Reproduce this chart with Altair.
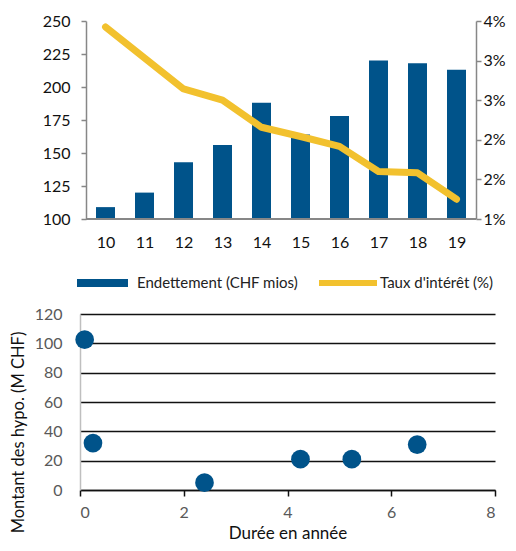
import altair as alt
import pandas as pd

# ---- top chart data ----
years = [10, 11, 12, 13, 14, 15, 16, 17, 18, 19]
debt = [109, 120, 143, 156, 188, 164, 178, 220, 218, 213]
rate = [3.91, 3.44, 2.97, 2.80, 2.39, 2.25, 2.10, 1.72, 1.70, 1.30]
debt_label = "Endettement (CHF mios)"
rate_label = "Taux d'intérêt (%)"
left_ticks = [100, 125, 150, 175, 200, 225, 250]
right_ticks = [1.0, 1.6, 2.2, 2.8, 3.4, 4.0]

# ---- bottom chart data ----
duration = [0.09, 0.25, 2.4, 4.25, 5.24, 6.5]
amount = [102.5, 32, 5, 21, 21, 31]
x_ticks = [0, 2, 4, 6, 8]
y_ticks = [0, 20, 40, 60, 80, 100, 120]

BLUE = "#00538A"
YELLOW = "#F2C12E"
GREY = "#878787"

top_df = pd.DataFrame({"year": years, "debt": debt, "rate": rate,
                       "s1": debt_label, "s2": rate_label})
base_df = pd.DataFrame({"year": [9.5], "year_end": [19.5], "debt": [100]})

xenc = alt.X("year:Q",
             scale=alt.Scale(domain=[9.346, 19.5], nice=False, zero=False, padding=0),
             axis=alt.Axis(values=years, format="d", title=None, ticks=False, tickSize=0,
                           domain=False, grid=False, labelFontSize=16, labelPadding=15,
                           labelColor="#111"))
yenc = alt.Y("debt:Q", scale=alt.Scale(domain=[100, 250], nice=False, zero=False),
             axis=alt.Axis(orient="left", values=left_ticks, title=None, offset=-6,
                           domainColor=GREY, domainWidth=1.5, tickColor=GREY, tickSize=5,
                           tickWidth=1.5, labelPadding=11, grid=False, labelFontSize=16,
                           labelColor="#111"))

bars = alt.Chart(top_df).mark_bar(size=19).encode(
    x=xenc,
    y=yenc,
    y2=alt.datum(100),
    fill=alt.Fill("s1:N", scale=alt.Scale(domain=[debt_label], range=[BLUE]),
                  legend=alt.Legend(title=None, orient="none", legendX=-3, legendY=255,
                                    symbolType="M-1,-0.16L1,-0.16L1,0.16L-1,0.16Z",
                                    symbolSize=2601, symbolStrokeWidth=0, clipHeight=14,
                                    labelFontSize=15, labelOffset=9, padding=0,
                                    labelLimit=400, labelColor="#222")),
)

baseline = alt.Chart(base_df).mark_rule(color=GREY, strokeWidth=2).encode(
    x=xenc,
    x2="year_end:Q",
    y=yenc,
)

line = alt.Chart(top_df).mark_line(strokeWidth=7, strokeCap="round", strokeJoin="round").encode(
    x=xenc,
    y=alt.Y("rate:Q", scale=alt.Scale(domain=[1, 4], nice=False, zero=False),
            axis=alt.Axis(orient="right", values=right_ticks, title=None,
                          labelExpr="format(datum.value, '.0f') + '%'",
                          domainColor=GREY, domainWidth=1.5, tickColor=GREY, tickSize=5,
                          tickWidth=1.5, labelPadding=2, grid=False, labelFontSize=16,
                          labelColor="#111")),
    stroke=alt.Stroke("s2:N", scale=alt.Scale(domain=[rate_label], range=[YELLOW]),
                      legend=alt.Legend(title=None, orient="none", legendX=236, legendY=255,
                                        symbolType="stroke", symbolSize=3364,
                                        symbolStrokeWidth=6, clipHeight=14,
                                        labelFontSize=15, labelOffset=0, padding=0,
                                        labelLimit=400, labelColor="#222")),
)

top = alt.layer(alt.layer(bars, baseline), line).resolve_scale(y="independent").properties(
    width=396, height=198)

bot_df = pd.DataFrame({"dur": duration, "amt": amount})
bottom = alt.Chart(bot_df).mark_circle(size=350, opacity=1, color=BLUE).encode(
    x=alt.X("dur:Q", scale=alt.Scale(domain=[0, 8], nice=False),
            axis=alt.Axis(values=x_ticks, title="Durée en année", grid=False,
                          domainColor="#111", domainWidth=1.5, tickColor="#111", tickSize=6,
                          tickWidth=1.5, labelColor="#595959", labelFontSize=16,
                          labelPadding=8, titleFontSize=17, titleFontWeight="normal",
                          titleColor="#111", titlePadding=5)),
    y=alt.Y("amt:Q", scale=alt.Scale(domain=[0, 120], nice=False),
            axis=alt.Axis(values=y_ticks, title="Montant des hypo. (M CHF)", grid=True,
                          gridColor="#111", gridWidth=1.5, domainColor="#BFBFBF",
                          domainWidth=1.5, ticks=False, tickSize=0, labelColor="#595959",
                          labelFontSize=16, labelPadding=18, titleFontSize=16.5,
                          titleFontWeight="normal", titleColor="#111", titlePadding=8,
                          titleY=118)),
).properties(width=415, height=176)

chart = alt.vconcat(top, bottom, spacing=56).properties(
    padding={"left": 2, "top": 5, "right": 0, "bottom": 0}
).configure(font="Lato").configure_view(stroke=None)

chart.save("out.html", embed_options={"renderer": "svg", "actions": False})
